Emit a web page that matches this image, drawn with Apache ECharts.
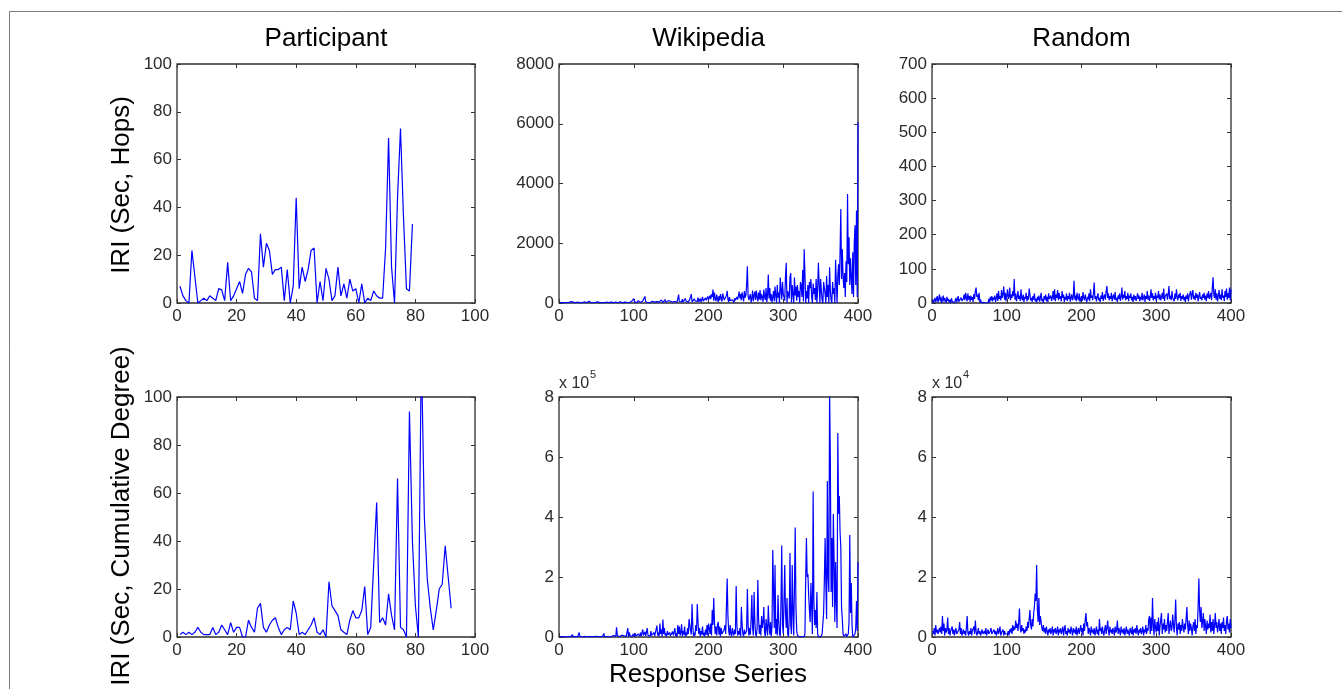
<!DOCTYPE html>
<html>
<head>
<meta charset="utf-8">
<script src="https://cdn.jsdelivr.net/npm/echarts@6/dist/echarts.min.js"></script>
<style>
html,body{margin:0;padding:0;background:#fff;}
#chart{width:1342px;height:689px;}
</style>
</head>
<body>
<div id="chart"></div>
<script>
// ---------- DATA ----------
const columnTitles = ['Participant', 'Wikipedia', 'Random'];
const rowLabels = ['IRI (Sec, Hops)', 'IRI (Sec, Cumulative Degree)'];
const xAxisTitle = 'Response Series';

// Participant, hops (x = 1..79)
const participantHops = [7,3,1,0,22,11,0,1,2,1,
3,2,1,6,5.5,1,17,1,3,6,
9,4,12,14.5,13,2,1,29,15,25,
22,12,14,14,15,1,14,0,7,44,
6,15,9,14,22,23,0,9,1,14.5,
10,1,3,15,3,8,2,10,5,6,
0,8,0,2,1,5,3,2,2,23,
69,15,0,44,73,36,6,5,33];

// Participant, cumulative degree (x = 1..92)
const participantDegree = [1,2,1,2,1,2,4,2,1,1,
1,4,1,2,5,3,1,6,2,4,
4,0,0,7,4,2,12,14,4,2,
5,7,8,4,1,3,4,3,15,10,
1,2,1,3,5,8,2,1,3,0,
23,13,11,9,3,2,1,7,11,8,
8,11,21,1,4,30,56,6,8,5,
18,9,3,66,4,3,0,94,40,13,
0,120,50,24,12,3,11,20,22,38,
25,12];

// Wikipedia, hops (x = 1..400)
const wikiHops = [20,10,30,5,15,40,10,0,25,10,
5,30,15,10,20,45,5,10,30,10,
15,5,25,10,35,10,20,5,15,30,
10,5,20,40,10,15,5,25,10,60,
10,20,5,30,15,10,35,5,20,10,
25,40,10,15,5,30,20,10,45,15,
10,25,5,35,15,20,10,40,5,30,
15,60,10,20,5,35,15,50,10,25,
15,40,10,20,5,60,15,30,10,45,
20,5,70,15,30,10,50,20,80,150,
40,20,60,10,30,80,15,40,20,50,
10,70,30,90,220,40,20,60,10,35,
70,15,40,25,60,10,50,30,80,20,
45,15,90,30,60,20,100,40,15,70,
30,110,20,50,15,80,40,25,60,10,
90,30,70,20,50,110,40,30,60,280,
50,20,90,40,130,30,70,20,150,60,
40,100,30,80,120,60,300,40,90,30,
140,70,20,110,50,180,40,90,150,30,
70,200,60,120,40,170,90,30,220,110,
60,250,130,300,200,450,80,350,150,60,
280,120,40,230,90,300,160,50,320,200,
100,150,60,250,410,120,30,200,80,140,
50,110,70,20,160,90,40,200,110,60,
380,150,300,90,360,200,50,400,180,250,
600,1230,250,100,80,300,20,150,420,60,
250,380,100,420,200,50,350,120,430,90,
300,180,40,450,210,100,500,30,260,950,
150,500,80,300,20,200,400,60,550,250,
10,600,180,350,0,850,420,120,700,300,
200,80,900,1350,0,400,350,150,850,1000,
20,600,300,0,850,250,550,80,600,200,
400,0,700,600,200,1100,50,1800,1000,0,
400,150,600,0,700,500,800,200,0,650,
300,500,100,800,0,450,1350,650,0,800,
400,100,0,700,500,300,0,900,200,600,
0,1200,400,100,0,700,300,500,0,1450,
700,0,900,1300,600,1700,3150,800,1800,900,
500,1000,200,1400,700,3650,1300,2200,600,1500,
800,300,1700,200,2000,2600,600,3100,200,6050];

// Random, hops (x = 1..400)
const randomHops = [10,0,5,15,3,8,20,2,12,25,
5,18,0,10,22,4,15,8,0,18,
6,12,2,9,0,14,5,3,10,0,
7,15,2,11,20,4,8,0,16,6,
3,12,25,8,30,15,5,28,10,20,
4,22,9,17,3,26,12,35,45,18,
25,8,30,2,10,0,4,0,2,0,
3,0,1,5,0,12,2,18,8,20,
5,16,10,22,3,14,28,6,35,12,
20,8,38,15,25,48,10,30,5,22,
40,12,18,45,8,25,15,35,20,70,
10,28,5,18,35,12,22,6,40,15,
8,25,3,18,12,30,5,20,10,42,
25,8,15,3,20,10,28,5,12,2,
18,8,22,4,15,30,6,12,0,20,
10,25,5,18,3,28,12,8,22,6,
15,35,10,40,5,25,15,38,8,30,
12,20,5,35,15,25,3,18,10,28,
6,20,12,30,4,15,25,8,18,65,
10,22,5,30,15,8,28,3,12,20,
6,32,15,8,25,12,2,18,10,28,
5,40,15,22,8,30,60,12,20,5,
18,28,8,15,3,22,12,32,6,18,
25,10,35,50,15,28,8,20,12,30,
5,18,25,10,32,8,15,3,22,12,
28,6,18,45,10,25,15,35,8,20,
12,30,5,22,15,28,8,18,3,25,
10,20,6,15,28,12,22,5,18,10,
30,8,15,25,3,20,12,35,10,22,
6,18,40,15,28,8,20,12,30,5,
22,15,35,10,25,8,18,30,12,42,
6,20,15,28,10,25,50,12,22,8,
35,15,20,5,28,12,40,18,8,25,
15,30,6,20,12,25,8,18,3,22,
12,28,5,20,15,35,10,25,38,12,
22,8,30,15,25,5,20,32,12,18,
8,25,15,30,10,22,5,28,15,35,
12,20,30,8,45,75,25,15,40,10,
28,5,20,38,12,25,8,40,15,22,
5,35,18,42,10,28,15,45,8,40];

// Wikipedia, cumulative degree, in units of 10^5 (x = 1..400)
const wikiDegreeE5 = [.01,.005,.02,.01,0,.015,.005,.01,.02,.005,
.01,0,.015,.005,.02,.01,0,.08,.005,.015,
.005,.01,.02,0,.01,.005,.15,.01,.005,.02,
0,.01,.005,.02,.01,.06,.005,.015,0,.01,
.02,.005,.01,.015,0,.01,.04,.005,.02,.01,
.005,.015,0,.02,.01,.05,.005,.01,.02,.12,
.01,.005,.03,.01,.06,.02,.005,.01,.04,.015,
.02,.005,.05,.01,.08,.02,.32,.05,.01,.02,
.005,.03,.01,.06,.02,.005,.04,.01,.07,.02,
.03,.3,.01,.15,.05,.02,.08,.01,.1,.04,
.02,.12,.03,.06,.01,.1,.04,.02,.15,.03,
.08,.25,.05,.02,.18,.04,.1,.3,.06,.02,
.12,.03,.2,.05,.08,.02,.15,.04,.1,.02,
.38,.05,.15,.03,.45,.1,.25,.02,.58,.1,
.3,.05,.12,.02,.2,.08,.02,.15,.04,.1,
.02,.18,.05,.08,.3,.03,.12,.02,.4,.1,
.35,.05,.15,.42,.03,.2,.08,.35,.02,.15,
.05,.3,.1,.6,.55,.2,.08,1.1,.35,.02,
.15,.05,.4,.2,1.1,.5,.1,.3,.02,.2,
.08,.35,.05,.15,.02,.25,.08,.4,.05,.45,
.3,.1,.45,.05,.9,.4,1.3,.5,.1,.35,
.05,.4,.5,.08,.35,.02,.3,.1,.15,.05,
.25,.4,.1,.05,1.95,.7,.2,.05,.4,.1,
.02,.3,.15,.05,.25,.1,1.7,.4,.05,.2,
.08,.3,.02,1.0,.4,.1,.02,.25,.1,.05,
.2,1.6,.4,.05,.3,.08,.6,1.4,.3,.05,
1.5,.5,.1,.02,.3,1.9,.6,.1,.4,.05,
.7,.3,.5,1.0,.15,.02,.6,.3,.05,1.05,
.4,.08,.5,.02,.4,2.9,1.6,.3,2.4,.1,
.6,.05,1.4,.5,.1,.02,1.2,3.05,.4,.1,
.05,2.4,.8,.3,1.3,.1,.02,.6,2.8,.4,
.1,2.4,.8,.05,1.7,3.65,1.0,.2,.05,0,
.02,0,.05,0,.01,.03,0,.02,.1,1.9,
3.3,2.0,2.1,1.4,.9,.5,1.8,1.0,.1,4.85,
1.2,.4,.9,.3,1.5,.1,.02,0,.05,0,
.02,.1,.05,.8,1.9,3.3,1.8,.6,5.2,2.0,
1.5,8.2,5.95,1.5,3.3,1.0,4.1,2.6,.5,2.5,
1.2,.3,6.8,4.1,4.7,3.5,3.0,1.0,.6,.1,
.02,0,.05,.1,.02,0,.1,.5,3.4,.8,
1.8,.4,0,.02,.05,.1,.3,1.2,.2,2.5];

// Random, cumulative degree, in units of 10^4 (x = 1..400)
const randomDegreeE4 = [.2,.1,.3,.05,.4,.15,.25,.1,.05,.3,
.15,.35,.1,.7,.2,.45,.05,.3,.15,.25,
.65,.1,.3,.05,.2,.15,.35,.1,.25,.05,
.2,.3,.1,.15,.05,.25,.5,.1,.3,.05,
.15,.25,.1,.2,.05,.3,.7,.15,.05,.2,
.1,.3,.05,.2,.15,.35,.1,.55,.2,.05,
.15,.3,.1,.2,.05,.15,.25,.1,.05,.2,
.1,.3,.05,.15,.25,.1,.05,.2,.3,.1,
.05,.15,.25,.1,.2,.05,.15,.3,.1,.2,
.35,.05,.15,.1,.25,.05,.2,.1,.05,.15,
.1,.2,.05,.25,.15,.3,.1,.4,.2,.35,
.25,.55,.3,.45,.2,.5,.95,.3,.15,.4,
.2,.3,.1,.25,.15,.35,.2,.5,.3,.6,
.9,.4,.25,.6,.35,.8,1.0,1.45,1.2,2.4,
.9,.5,1.3,.4,.7,.7,.3,.2,.4,.15,
.3,.1,.35,.2,.05,.25,.15,.3,.1,.2,
.35,.05,.25,.15,.3,.1,.2,.35,.05,.25,
.15,.3,.1,.2,.35,.05,.25,.4,.1,.2,
.05,.3,.15,.25,.1,.35,.2,.05,.3,.15,
.25,.1,.35,.05,.2,.3,.1,.25,.4,.15,
.3,.05,.45,.2,.6,.8,.35,.5,.1,.3,
.2,.05,.35,.15,.25,.1,.3,.05,.2,.35,
.1,.25,.05,.6,.2,.3,.1,.35,.15,.05,
.25,.4,.1,.3,.55,.2,.05,.35,.15,.25,
.1,.3,.2,.05,.35,.15,.25,.55,.1,.3,
.2,.05,.35,.15,.25,.1,.3,.05,.2,.35,
.1,.25,.15,.05,.3,.2,.1,.35,.05,.25,
.15,.3,.1,.4,.2,.05,.25,.15,.3,.1,
.2,.35,.05,.25,.15,.4,.1,.3,.2,.6,
.7,.1,.65,.2,1.3,.4,.05,.6,.3,.15,
.5,.2,.65,.05,.35,.3,.8,.1,.45,.25,
.6,.15,.4,.2,.5,.8,.1,.35,.55,.2,
.3,.75,.4,.15,.6,1.25,.3,.05,.45,.25,
.5,.1,.4,.2,.6,.35,.15,.45,.25,.3,
1.0,.4,.1,.55,.2,.45,.3,.05,.35,.5,
.2,.6,.1,.4,.3,1.0,1.95,.9,.5,1.0,
.3,.5,.8,.2,.6,.35,.1,.55,.25,.45,
.3,.75,.15,.5,.2,.6,.1,.4,.8,.3,
.5,.15,.35,.6,.2,.45,.1,.5,.3,.65,
.2,.4,.1,.55,.7,.25,.45,.15,.6,.3];

// axis ranges / ticks
const xMaxes = [100, 400, 400, 100, 400, 400];
const xSteps = [20, 100, 100, 20, 100, 100];
const yMaxes = [100, 8000, 700, 100, 8, 8];
const ySteps = [20, 2000, 100, 20, 2, 2];
const exponentLabels = [null, null, null, null, '5', '4'];

// ---------- CHART ----------
const panels = [participantHops, wikiHops, randomHops, participantDegree, wikiDegreeE5, randomDegreeE4];
const gridBoxes = [
  {left:177, top:64, width:298, height:239},
  {left:559, top:64, width:299, height:239},
  {left:932, top:64, width:299, height:239},
  {left:177, top:397, width:298, height:240},
  {left:559, top:397, width:299, height:240},
  {left:932, top:397, width:299, height:240}
];
const FONT = '"Liberation Sans", Arial, sans-serif';
const plain = v => String(v);
const labelStyle = {fontSize:17, color:'#2b2b2b', fontFamily:FONT, formatter:plain};
const tickStyle = {show:true, inside:true, length:4, lineStyle:{color:'#333', width:1}};
const noLine = {show:false, onZero:false};

const grid = [], xAxis = [], yAxis = [], series = [];
panels.forEach((vals, i) => {
  const g = gridBoxes[i];
  grid.push(Object.assign({show:true, borderColor:'#2e2e2e', borderWidth:1.3, backgroundColor:'#fff', containLabel:false}, g));
  const xBase = {type:'value', gridIndex:i, min:0, max:xMaxes[i], interval:xSteps[i], splitLine:{show:false}, axisLine:noLine, axisTick:tickStyle};
  xAxis.push(Object.assign({}, xBase, {position:'bottom', axisLabel:Object.assign({margin:5, showMinLabel:true, showMaxLabel:true}, labelStyle)}));
  xAxis.push(Object.assign({}, xBase, {position:'top', axisLabel:{show:false}}));
  const yBase = {type:'value', gridIndex:i, min:0, max:yMaxes[i], interval:ySteps[i], splitLine:{show:false}, axisLine:noLine, axisTick:tickStyle};
  yAxis.push(Object.assign({}, yBase, {position:'left', axisLabel:Object.assign({margin:5, showMinLabel:true, showMaxLabel:true}, labelStyle)}));
  yAxis.push(Object.assign({}, yBase, {position:'right', axisLabel:{show:false}}));
  series.push({
    type:'line', xAxisIndex:2*i, yAxisIndex:2*i, showSymbol:false, symbol:'none',
    clip:true, animation:false, silent:true,
    lineStyle:{color:'#0000ff', width:1.2},
    data: vals.map((v, k) => [k + 1, v])
  });
});

function txt(text, x, y, size, opts) {
  return Object.assign({
    type:'text', x:x, y:y, silent:true,
    style:{text:text, font:size + 'px ' + FONT, fill:'#000',
      textAlign:'center', align:'center', textVerticalAlign:'middle', verticalAlign:'middle'}
  }, opts || {});
}

const graphic = [
  {type:'line', silent:true, shape:{x1:9.5, y1:11.5, x2:1342, y2:11.5}, style:{stroke:'#7a7a7a', lineWidth:1}},
  {type:'line', silent:true, shape:{x1:9.5, y1:11.5, x2:9.5, y2:689}, style:{stroke:'#7a7a7a', lineWidth:1}}
];
columnTitles.forEach((t, c) => {
  const g = gridBoxes[c];
  graphic.push(txt(t, g.left + g.width / 2, 39, 26));
});
graphic.push(txt(rowLabels[0], 122, 185, 26, {rotation:Math.PI / 2}));
graphic.push(txt(rowLabels[1], 122, 516, 26, {rotation:Math.PI / 2}));
graphic.push(txt(xAxisTitle, 708, 675, 26));
exponentLabels.forEach((e, i) => {
  if (!e) return;
  const g = gridBoxes[i];
  graphic.push({type:'text', x:g.left, y:384, silent:true,
    style:{text:'x 10', font:'16px ' + FONT, fill:'#2b2b2b', textAlign:'left', align:'left', textVerticalAlign:'middle', verticalAlign:'middle'}});
  graphic.push({type:'text', x:g.left + 31, y:375, silent:true,
    style:{text:e, font:'11px ' + FONT, fill:'#2b2b2b', textAlign:'left', align:'left', textVerticalAlign:'middle', verticalAlign:'middle'}});
});

const chart = echarts.init(document.getElementById('chart'), null, {renderer:'canvas'});
chart.setOption({
  animation:false,
  backgroundColor:'#fff',
  grid:grid, xAxis:xAxis, yAxis:yAxis, series:series, graphic:graphic
});
</script>
</body>
</html>
